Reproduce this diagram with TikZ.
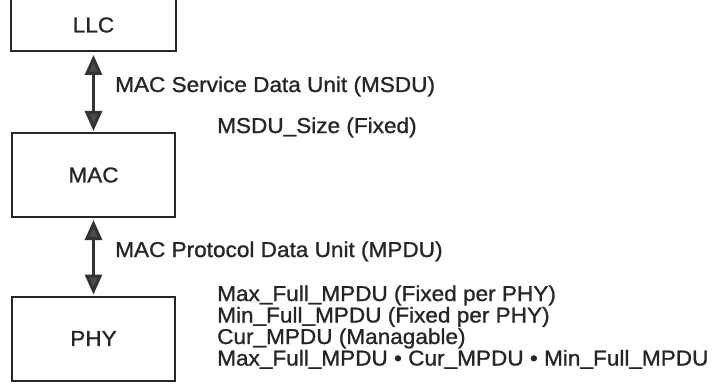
\documentclass[tikz,border=0pt]{standalone}
\usepackage{fontspec}
\setmainfont{Liberation Sans}[FakeBold=1.1,FakeStretch=1.05]
\usetikzlibrary{arrows.meta}
\newcommand\us{\raisebox{1pt}{\_}}
\begin{document}
\begin{tikzpicture}[x=1pt,y=-1pt,
  box/.style={draw=black!85,line width=2pt,minimum width=163pt,minimum height=84pt,inner sep=0pt,font=\fontsize{21.5}{24}\selectfont,text=black!85},
  lbl/.style={anchor=base west,inner sep=0pt,font=\fontsize{21.5}{24}\selectfont,text=black!85},
  dbl/.style={line width=3pt,draw=black!80,{Triangle[width=17pt,length=20pt,fill=black!70]}-{Triangle[width=17pt,length=20pt,fill=black!70]}}
]
\useasboundingbox (0,0) rectangle (725,385);
\clip (0,0) rectangle (725,385);
% LLC (open at top)
\node[box,draw=none,minimum height=52pt] (llc) at (93.5,25) {LLC};
\draw[black!85,line width=2pt] ([yshift=-1pt]llc.north west) -- ([yshift=1pt]llc.south west) -- ([yshift=1pt]llc.south east) -- ([yshift=-1pt]llc.north east);
\node[box] (mac) at (93.5,175) {MAC};
\node[box] (phy) at (93.5,338.5) {PHY};
\draw[dbl] ([yshift=-3pt]llc.south) -- ([yshift=1pt]mac.north);
\draw[dbl] ([yshift=-2pt]mac.south) -- ([yshift=1pt]phy.north);
\node[lbl] (msdu) at (115,92) {MAC Service Data Unit (MSDU)};
\node[lbl] (msize) at (217,133) {MSDU\us Size (Fixed)};
\node[lbl] (mpdu) at (115,257) {MAC Protocol Data Unit (MPDU)};
\node[lbl] (l1) at (217,301) {Max\us Full\us MPDU (Fixed per PHY)};
\node[lbl] (l2) at (217,322.5) {Min\us Full\us MPDU (Fixed per PHY)};
\node[lbl] (l3) at (217,344) {Cur\us MPDU (Managable)};
\node[lbl] (l4) at (217,365.5) {Max\us Full\us MPDU • Cur\us MPDU • Min\us Full\us MPDU};
\end{tikzpicture}
\end{document}
